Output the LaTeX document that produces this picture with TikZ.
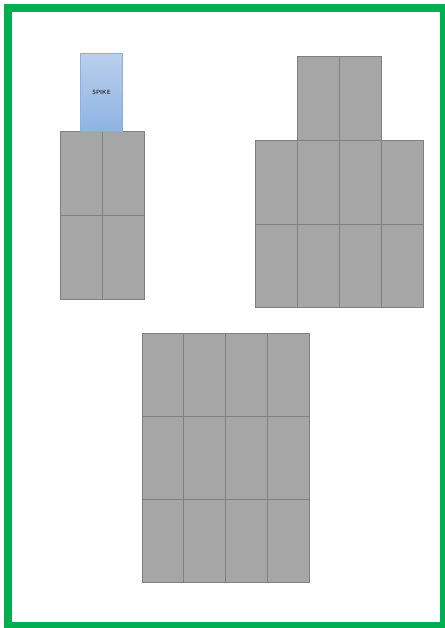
\documentclass[tikz,border=0pt]{standalone}
\usepackage{xcolor}
\usetikzlibrary{positioning}
\definecolor{cellgray}{HTML}{A6A6A6}
\definecolor{celledge}{HTML}{808080}
\definecolor{spiketop}{HTML}{BACFEC}
\definecolor{spikebot}{HTML}{8DB3E2}
\definecolor{spikeedge}{HTML}{8AB0DE}
\definecolor{framegreen}{HTML}{00B050}
\begin{document}
\begin{tikzpicture}[
      x=1pt, y=-1pt,
      cell/.style={draw=celledge, fill=cellgray, line width=1pt, inner sep=0pt,
                   outer sep=0pt, minimum width=42pt, minimum height=83.5pt, anchor=north west},
      spikebox/.style={draw=spikeedge, top color=spiketop, bottom color=spikebot,
                       line width=1pt, inner sep=0pt, minimum width=42pt, minimum height=78pt,
                       font=\fontsize{6}{7}\selectfont\sffamily\bfseries, text=black!80}
    ]
    \useasboundingbox (0,0) rectangle (444,628);
    \fill[white] (0,0) rectangle (444,628);
    % left tower with spike
    \foreach \c in {0,1}
      \foreach \r in {0,1}
        \node[cell] (lt-\c-\r) at ({60+42*\c},{132+83.5*\r}) {};
    \node[spikebox, anchor=south west] (spike) at (80,132) {SPIKE};
    % right tower
    \foreach \c in {0,1}
      \node[cell, minimum height=84pt] (rt-top-\c) at ({297+42*\c},57) {};
    \foreach \c in {0,...,3}
      \foreach \r in {0,1}
        \node[cell] (rt-\c-\r) at ({255+42*\c},{141+83*\r}) {};
    % bottom block
    \foreach \c in {0,...,3}
      \foreach \r in {0,1,2}
        \node[cell, minimum width=41.75pt, minimum height=83.3pt] (bt-\c-\r) at ({142+41.75*\c},{333+83.3*\r}) {};
    % frame
    \draw[framegreen, line width=8pt] (8,8) rectangle (444,626);
  \end{tikzpicture}
\end{document}
